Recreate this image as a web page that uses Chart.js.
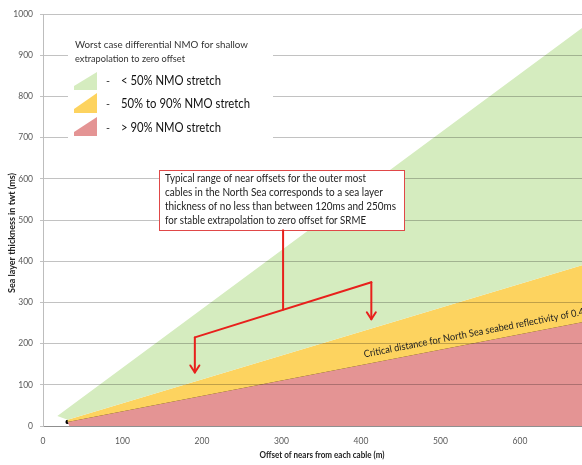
<!DOCTYPE html>
<html>
<head>
<meta charset="utf-8">
<script src="https://cdn.jsdelivr.net/npm/chart.js@4/dist/chart.umd.min.js"></script>
<style>
  html, body { margin: 0; padding: 0; background: #fff; overflow: hidden; }
  #wrap { width: 582px; height: 465px; position: relative; }
</style>
</head>
<body>
<div id="wrap"><canvas id="c" width="582" height="465"></canvas></div>
<script>
// Axis ticks
const X_TICKS = [0, 100, 200, 300, 400, 500, 600];
const Y_TICKS = [0, 100, 200, 300, 400, 500, 600, 700, 800, 900, 1000];
const X_MAX = 678;

// Zone boundaries: [offset (m), sea layer thickness (ms)]
const nmo50Edge = [[18, 24], [678, 966]];     // upper edge of the < 50% stretch zone
const nmo90Edge = [[31, 15], [678, 390]];     // boundary between < 50% and 50-90% stretch
const criticalEdge = [[31, 10], [678, 252]];  // critical distance, reflectivity 0.4
const redBase = [[33, 0], [678, 0]];

// Callout leader lines (offset, thickness)
const calloutStem = [[302, 475], [302, 283]];
const calloutBar = [[191, 215], [413, 349]];
const arrowLow = [[191, 215], [191, 130]];   // ~120 ms
const arrowHigh = [[413, 349], [413, 259]];  // ~250 ms

const legendTitle = ['Worst case differential NMO for shallow', 'extrapolation to zero offset'];
const legendLabels = ['< 50% NMO stretch', '50% to 90% NMO stretch', '> 90% NMO stretch'];
const calloutLines = [
  'Typical range of near offsets for the outer most',
  'cables in the North Sea corresponds to a sea layer',
  'thickness of no less than between 120ms and 250ms',
  'for stable extrapolation to zero offset for SRME'
];
const criticalLabel = 'Critical distance for North Sea seabed reflectivity of 0.4';

const GREEN = '#d5ecbf', YELLOW = '#fdd35f', RED = '#e49494';
const pts = a => a.map(p => ({ x: p[0], y: p[1] }));

const greenZone = pts([...nmo50Edge, ...nmo90Edge.slice().reverse()]);
const yellowZone = pts([...nmo90Edge, ...criticalEdge.slice().reverse()]);
const redZone = pts([redBase[0], ...criticalEdge, redBase[1]]);

function fitText(ctx, text, x, y, width, font, color, align) {
  ctx.save();
  ctx.font = font;
  ctx.fillStyle = color;
  ctx.textBaseline = 'middle';
  ctx.textAlign = 'left';
  const w = ctx.measureText(text).width;
  const s = width / w;
  let x0 = x;
  if (align === 'center') x0 = x - width / 2;
  ctx.translate(x0, y);
  ctx.scale(s, 1);
  ctx.fillText(text, 0, 0);
  ctx.restore();
}

function arrowHead(ctx, x, y) {
  ctx.beginPath();
  ctx.moveTo(x - 4.5, y - 7);
  ctx.lineTo(x, y);
  ctx.lineTo(x + 4.5, y - 7);
  ctx.stroke();
}

const decor = {
  id: 'decor',
  afterDraw(chart) {
    const ctx = chart.ctx;
    const xs = chart.scales.x, ys = chart.scales.y;
    const P = p => [xs.getPixelForValue(p[0]), ys.getPixelForValue(p[1])];

    // Critical distance label along the dark line
    const a = P(criticalEdge[0]), b = P(criticalEdge[1]);
    const ang = Math.atan2(b[1] - a[1], b[0] - a[0]);
    const startX = 406;
    const t = (startX - criticalEdge[0][0]) / (criticalEdge[1][0] - criticalEdge[0][0]);
    const sy = criticalEdge[0][1] + t * (criticalEdge[1][1] - criticalEdge[0][1]);
    const s = P([startX, sy]);
    ctx.save();
    ctx.translate(s[0], s[1]);
    ctx.rotate(ang);
    fitText(ctx, criticalLabel, 0, -10, 224, '10px Lato', '#222', 'left');
    ctx.restore();

    // Legend block
    ctx.save();
    ctx.fillStyle = '#fff';
    ctx.fillRect(68, 26, 205, 116);
    fitText(ctx, legendTitle[0], 75, 45, 173, '10px Lato', '#333', 'left');
    fitText(ctx, legendTitle[1], 75, 59, 110, '10px Lato', '#333', 'left');
    const sw = [[GREEN, 72, 90, 81], [YELLOW, 93, 113, 104], [RED, 117, 136, 128]];
    const lw = [100, 129, 100];
    sw.forEach((r, i) => {
      ctx.fillStyle = r[0];
      ctx.beginPath();
      ctx.moveTo(74, r[2]);
      ctx.lineTo(74, r[2] - 4);
      ctx.lineTo(97, r[1]);
      ctx.lineTo(97, r[2]);
      ctx.closePath();
      ctx.fill();
      fitText(ctx, '-', 106, r[3], 4, '12px Lato', '#333', 'left');
      fitText(ctx, legendLabels[i], 121, r[3], lw[i], '13px Lato', '#111', 'left');
    });
    ctx.restore();

    // Callout box
    ctx.save();
    ctx.fillStyle = '#fff';
    ctx.fillRect(159, 170, 245, 60);
    ctx.strokeStyle = '#e04848';
    ctx.lineWidth = 1;
    ctx.strokeRect(159.5, 170.5, 245, 60);
    const cw = [201, 218, 231, 201];
    calloutLines.forEach((l, i) => fitText(ctx, l, 165, 178 + i * 14, cw[i], '11px Lato', '#222', 'left'));
    ctx.restore();

    // Leader lines with arrows
    ctx.save();
    ctx.strokeStyle = '#e8201c';
    ctx.lineWidth = 2;
    ctx.lineCap = 'round';
    ctx.lineJoin = 'round';
    [calloutStem, calloutBar, arrowLow, arrowHigh].forEach(seg => {
      const p0 = P(seg[0]), p1 = P(seg[1]);
      ctx.beginPath();
      ctx.moveTo(p0[0], p0[1]);
      ctx.lineTo(p1[0], p1[1]);
      ctx.stroke();
    });
    [arrowLow, arrowHigh].forEach(seg => {
      const p = P(seg[1]);
      arrowHead(ctx, p[0], p[1]);
    });
    ctx.restore();

    // Axis titles
    fitText(ctx, 'Offset of nears from each cable (m)', 322, 455, 125, 'bold 9px Lato', '#222', 'center');
    ctx.save();
    ctx.translate(12, 233);
    ctx.rotate(-Math.PI / 2);
    fitText(ctx, 'Sea layer thickness in twt (ms)', 0, 0, 120, 'bold 9px Lato', '#222', 'center');
    ctx.restore();
  }
};

new Chart(document.getElementById('c'), {
  type: 'line',
  data: {
    datasets: [
      { data: greenZone, fill: 'shape', backgroundColor: GREEN, borderWidth: 0, pointRadius: 0, tension: 0 },
      { data: yellowZone, fill: 'shape', backgroundColor: YELLOW, borderWidth: 0, pointRadius: 0, tension: 0 },
      { data: redZone, fill: 'shape', backgroundColor: RED, borderWidth: 0, pointRadius: 0, tension: 0 },
      {
        data: pts(criticalEdge), fill: false, borderColor: '#2e1500', borderWidth: 3,
        pointRadius: [2.2, 0], pointBackgroundColor: '#000', pointBorderWidth: 0, tension: 0
      }
    ]
  },
  options: {
    responsive: false,
    animation: false,
    events: [],
    layout: { autoPadding: false, padding: { top: 14, right: 0, left: 0, bottom: 0 } },
    plugins: { legend: { display: false }, tooltip: { enabled: false } },
    scales: {
      x: {
        type: 'linear', min: 0, max: X_MAX,
        afterBuildTicks: s => { s.ticks = X_TICKS.map(v => ({ value: v })); },
        afterFit: s => { s.height = 39; },
        grid: { display: false, drawTicks: false },
        border: { display: true, color: '#bdbdbd', width: 1, z: 1 },
        ticks: { padding: 10, color: '#595959', font: { family: 'Lato', size: 8.5 }, maxRotation: 0 }
      },
      y: {
        type: 'linear', min: 0, max: 1000,
        afterBuildTicks: s => { s.ticks = Y_TICKS.map(v => ({ value: v })); },
        afterFit: s => { s.width = 43; },
        grid: { color: 'rgba(0,0,0,0.24)', lineWidth: 1, tickLength: 3, z: 1 },
        border: { display: true, color: '#bdbdbd', width: 1, z: 1 },
        ticks: { padding: 7, color: '#595959', font: { family: 'Lato', size: 8.5 }, callback: v => String(v) }
      }
    }
  },
  plugins: [decor]
});
</script>
</body>
</html>
